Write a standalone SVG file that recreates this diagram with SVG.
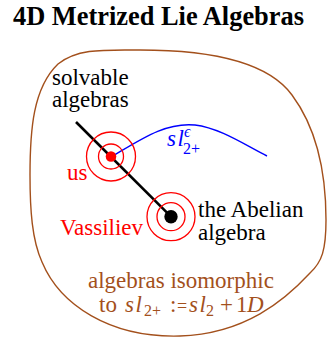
<svg xmlns="http://www.w3.org/2000/svg" width="336" height="349" viewBox="0 0 336 349">
<style>
text{font-family:"Liberation Serif","Times New Roman","DejaVu Serif",serif;font-size:23px}
.title{font-weight:bold;font-size:26.4px;fill:#000}
.blk{fill:#000}
.red{fill:#ff0000}
.blue{fill:#0000ff}
.brown{fill:#a3501c}
.it{font-style:italic}
.sl{font-style:italic;letter-spacing:1.5px}
.sub{font-size:16px}
.ring{fill:none;stroke:#ff0000;stroke-width:1.3}
</style>
<rect width="336" height="349" fill="#fff"/>
<text class="title" x="13" y="25">4D Metrized Lie Algebras</text>
<g id="region">
<path d="M 140,50 C 200,50 265,58 292,95 C 318,130 326,175 326,220 C 326,250 322,262 310,273 C 285,300 245,334 180,336 C 110,338 60,305 42,262 C 32,240 30,210 30,175 C 30,130 33,88 58,64 C 78,48 105,50 140,50 Z" fill="none" stroke="#a3501c" stroke-width="1.4"/>
<text class="brown" x="88" y="288">algebras isomorphic</text>
<text class="brown" y="312"><tspan x="99">to</tspan><tspan class="sl" x="125">sl</tspan><tspan class="sub" x="144" dy="4">2+</tspan><tspan x="170" dy="-4">:</tspan><tspan x="177" style="font-size:18px">=</tspan><tspan class="sl" x="189">sl</tspan><tspan class="sub" x="206" dy="4">2</tspan><tspan x="220" dy="-4">+</tspan><tspan x="236">1</tspan><tspan class="it" x="247">D</tspan></text>
</g>
<g id="connectors">
<line x1="76" y1="122" x2="171" y2="216.7" stroke="#000" stroke-width="2.6"/>
<path d="M 111,157 C 140,140 165,122 195,125 C 220,128 245,145 267,156" fill="none" stroke="#0000ff" stroke-width="1.4"/>
</g>
<g id="solvable">
<text class="blk" x="52" y="85">solvable</text>
<text class="blk" x="52" y="107">algebras</text>
</g>
<g id="us">
<circle class="ring" cx="111" cy="156.5" r="24.5"/>
<circle class="ring" cx="111" cy="156.5" r="12.5"/>
<circle cx="111" cy="156.5" r="5.3" fill="#ff0000"/>
<text class="red" x="67" y="180">us</text>
</g>
<g id="abelian">
<circle class="ring" cx="171" cy="216.7" r="24"/>
<circle class="ring" cx="171" cy="216.7" r="14"/>
<circle cx="171" cy="216.7" r="6.7" fill="#000"/>
<text class="red" x="60" y="235">Vassiliev</text>
<text class="blk" x="198" y="217">the Abelian</text>
<text class="blk" x="198" y="240">algebra</text>
</g>
<g id="sl2eps">
<text class="blue" y="146"><tspan class="sl" x="167">sl</tspan><tspan class="sub it" x="184" dy="-9">ϵ</tspan><tspan class="sub" x="183" dy="17">2+</tspan></text>
</g>
</svg>
